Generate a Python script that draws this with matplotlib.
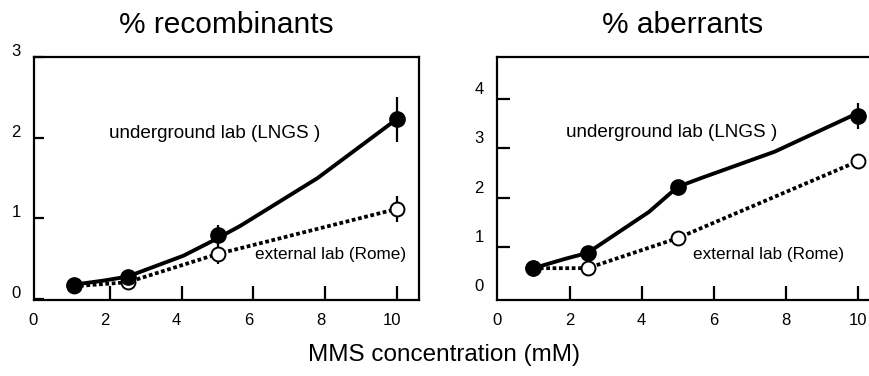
import matplotlib
matplotlib.use('Agg')
import matplotlib.pyplot as plt
from matplotlib.transforms import ScaledTranslation

plt.rcParams['font.family'] = ['Liberation Sans', 'DejaVu Sans']

# dose points (mM)
doses = [1, 2.5, 5, 10]

# % recombinants
rec_lngs = [0.18, 0.28, 0.80, 2.23]
rec_lngs_err = [0, 0, 0.12, 0.28]
rec_rome = [0.16, 0.21, 0.56, 1.12]
rec_rome_err = [0, 0, 0.12, 0.16]
# drawn trend curve for the LNGS series
rec_curve_x = [1.0, 1.83, 2.5, 4.06, 4.94, 5.64, 7.78, 9.8, 10]
rec_curve_y = [0.18, 0.23, 0.28, 0.54, 0.74, 0.91, 1.50, 2.17, 2.23]

# % aberrants
abe_lngs = [0.57, 0.88, 2.22, 3.66]
abe_lngs_err = [0, 0, 0, 0.26]
abe_rome = [0.57, 0.57, 1.18, 2.74]
abe_rome_err = [0, 0, 0, 0]
abe_curve_x = [1.0, 1.88, 2.5, 4.2, 5.0, 5.66, 7.68, 9.89, 10]
abe_curve_y = [0.57, 0.76, 0.88, 1.71, 2.22, 2.40, 2.93, 3.68, 3.66]

xticks = [0, 2, 4, 6, 8, 10]
rec_yticks = [0, 1, 2, 3]
abe_yticks = [0, 1, 2, 3, 4]

fig = plt.figure(figsize=(8.7, 3.76), dpi=100)
ax1 = fig.add_axes([0.0391, 0.2021, 0.4425, 0.6463])
ax2 = fig.add_axes([0.5713, 0.2021, 0.4276, 0.6463])

dot = (0, (1, 0.7))


def draw(ax, curve_x, curve_y, lngs, lngs_err, rome, rome_err):
    ax.plot(doses, rome, color='k', lw=2.7, linestyle=dot,
            dash_capstyle='butt', zorder=2)
    ax.errorbar(doses, rome, yerr=rome_err, fmt='none', ecolor='k',
                elinewidth=1.6, capsize=0, zorder=3)
    ax.plot(doses, rome, 'o', ms=10, mfc='white', mec='k', mew=1.4,
            zorder=4)
    ax.plot(curve_x, curve_y, color='k', lw=2.8, solid_capstyle='round',
            zorder=5)
    ax.errorbar(doses, lngs, yerr=lngs_err, fmt='none', ecolor='k',
                elinewidth=1.6, capsize=0, zorder=5)
    ax.plot(doses, lngs, 'o', ms=11, mfc='k', mec='k', zorder=6)
    for s in ax.spines.values():
        s.set_linewidth(1.6)
    ax.set_xticks(xticks)
    ax.tick_params(axis='both', direction='in', width=1.6, labelsize=12,
                   pad=9.5)
    ax.tick_params(axis='x', length=10)


draw(ax1, rec_curve_x, rec_curve_y, rec_lngs, rec_lngs_err,
     rec_rome, rec_rome_err)
draw(ax2, abe_curve_x, abe_curve_y, abe_lngs, abe_lngs_err,
     abe_rome, abe_rome_err)

ax1.set_xlim(-0.1, 10.6)
ax1.set_ylim(-0.01, 3.0)
ax1.set_yticks(rec_yticks)
ax1.tick_params(axis='y', length=7, labelsize=12)
ax2.set_xlim(-0.01, 10.3)
ax2.set_ylim(-0.075, 4.85)
ax2.set_yticks(abe_yticks)
ax2.tick_params(axis='y', length=9.5, labelsize=12)
ax2.spines['right'].set_visible(False)

# no marks where ticks coincide with the frame
ax1.xaxis.get_major_ticks()[0].tick1line.set_visible(False)
ax2.xaxis.get_major_ticks()[0].tick1line.set_visible(False)
ax2.yaxis.get_major_ticks()[0].tick1line.set_visible(False)

# labels in the original sit slightly off their tick marks
for lab in ax1.get_yticklabels():
    lab.set_transform(lab.get_transform() +
                      ScaledTranslation(0, 0.07, fig.dpi_scale_trans))
for lab in ax1.get_xticklabels():
    lab.set_transform(lab.get_transform() +
                      ScaledTranslation(-0.05, 0, fig.dpi_scale_trans))
for lab in ax2.get_yticklabels():
    lab.set_transform(lab.get_transform() +
                      ScaledTranslation(0, 0.11, fig.dpi_scale_trans))

ax1.set_title('% recombinants', fontsize=21.5, pad=17)
ax2.set_title('% aberrants', fontsize=21.5, pad=17)

ax1.text(4.92, 2.05, 'underground lab (LNGS )', fontsize=13.6,
         ha='center', va='center')
ax1.text(8.14, 0.55, 'external lab (Rome)', fontsize=12.3,
         ha='center', va='center')
ax2.text(4.83, 3.31, 'underground lab (LNGS )', fontsize=13.6,
         ha='center', va='center')
ax2.text(7.51, 0.84, 'external lab (Rome)', fontsize=12.3,
         ha='center', va='center')

fig.text(0.51, 0.056, 'MMS concentration (mM)', fontsize=17.5,
         ha='center', va='center')

plt.savefig('out.png', dpi=100)
